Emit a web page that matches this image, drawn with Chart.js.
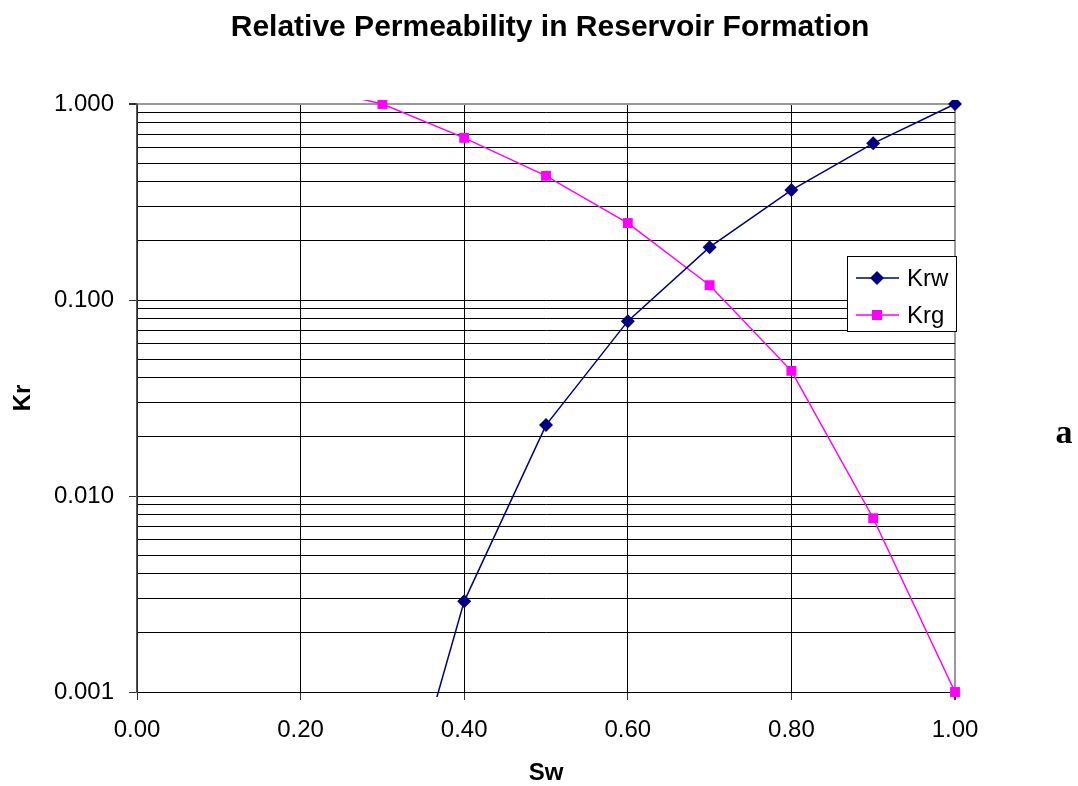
<!DOCTYPE html>
<html>
<head>
<meta charset="utf-8">
<title>Relative Permeability in Reservoir Formation</title>
<script src="https://cdn.jsdelivr.net/npm/chart.js@4.4.1/dist/chart.umd.min.js"></script>
<style>
  html, body { margin: 0; padding: 0; background: #fff; }
  #wrap { position: relative; width: 1078px; height: 786px; }
</style>
</head>
<body>
<div id="wrap"><canvas id="chart" width="1078" height="786"></canvas></div>
<script>
/* ---- Data ---- */
const TITLE = 'Relative Permeability in Reservoir Formation';
const SW  = [0.2, 0.3, 0.4, 0.5, 0.6, 0.7, 0.8, 0.9, 1.0];
const KRW = [null, 0.0001, 0.0029, 0.023, 0.078, 0.186, 0.364, 0.63, 1.0];
const KRG = [1.25, 1.0, 0.672, 0.43, 0.247, 0.119, 0.0435, 0.0077, 0.001];
const Y_DECADES = [0.001, 0.01, 0.1, 1];
const Y_MINOR = [2, 3, 4, 5, 6, 7, 8, 9];
const X_TICKS = [0, 0.2, 0.4, 0.6, 0.8, 1.0];

const FONT = '"Liberation Sans", Arial, sans-serif';
const NAVY = '#000080';
const MAGENTA = '#FF00FF';

// log ticks: decades + minor steps
const yTicks = [];
Y_DECADES.forEach((d, i) => {
  yTicks.push(d);
  if (i < Y_DECADES.length - 1) Y_MINOR.forEach(m => yTicks.push(d * m));
});

const pts = arr => SW.map((x, i) => ({ x: x, y: arr[i] }));
const offScale = ctx => (ctx.raw && (ctx.raw.y > 1.0001 || ctx.raw.y < 0.00099)) ? 0 : undefined;

/* ---- Extras: title, legend, side letter ---- */
const extras = {
  id: 'extras',
  afterDraw(chart) {
    const ctx = chart.ctx;
    ctx.save();
    ctx.fillStyle = '#000';
    ctx.textBaseline = 'middle';

    ctx.font = 'bold 30px ' + FONT;
    ctx.textAlign = 'center';
    ctx.fillText(TITLE, 550, 28);

    // legend box
    const bx = 847, by = 256, bw = 109, bh = 75;
    ctx.fillStyle = '#fff';
    ctx.fillRect(bx, by, bw, bh);
    ctx.strokeStyle = '#000';
    ctx.lineWidth = 1;
    ctx.strokeRect(bx + 0.5, by + 0.5, bw, bh);

    ctx.font = '24px ' + FONT;
    ctx.textAlign = 'left';
    chart.data.datasets.forEach((ds, i) => {
      const y = 278 + i * 37;
      ctx.strokeStyle = ds.borderColor;
      ctx.lineWidth = 1.5;
      ctx.beginPath();
      ctx.moveTo(856, y);
      ctx.lineTo(899, y);
      ctx.stroke();
      ctx.fillStyle = ds.borderColor;
      ctx.beginPath();
      if (ds.pointStyle === 'rectRot') {
        ctx.moveTo(877, y - 7); ctx.lineTo(884, y); ctx.lineTo(877, y + 7); ctx.lineTo(870, y);
      } else {
        ctx.rect(872, y - 5, 10, 10);
      }
      ctx.closePath();
      ctx.fill();
      ctx.fillStyle = '#000';
      ctx.fillText(ds.label, 907, y + 1);
    });

    ctx.font = 'bold 34px "Liberation Serif", "Times New Roman", serif';
    ctx.textAlign = 'center';
    ctx.textBaseline = 'alphabetic';
    ctx.fillText('a', 1064, 443);
    ctx.restore();
  }
};

new Chart(document.getElementById('chart'), {
  type: 'line',
  data: {
    datasets: [
      {
        label: 'Krw',
        data: pts(KRW),
        borderColor: NAVY,
        backgroundColor: NAVY,
        borderWidth: 1.5,
        pointStyle: 'rectRot',
        pointRadius: ctx => offScale(ctx) ?? 7,
        pointBorderWidth: 0,
        spanGaps: false,
        clip: { left: 0, top: 4, right: 8, bottom: 5 }
      },
      {
        label: 'Krg',
        data: pts(KRG),
        borderColor: MAGENTA,
        backgroundColor: MAGENTA,
        borderWidth: 1.5,
        pointStyle: 'rect',
        pointRadius: ctx => offScale(ctx) ?? 7,
        pointBorderWidth: 0,
        clip: { left: 0, top: 4, right: 8, bottom: 5 }
      }
    ]
  },
  options: {
    responsive: false,
    animation: false,
    layout: { padding: { top: 104, left: 0, right: 123, bottom: 0 } },
    plugins: {
      legend: { display: false },
      title: { display: false },
      tooltip: { enabled: false }
    },
    scales: {
      x: {
        type: 'linear',
        min: 0, max: 1,
        afterFit: s => { s.height = 94; },
        afterBuildTicks: s => { s.ticks = X_TICKS.map(v => ({ value: v })); },
        ticks: {
          color: '#000',
          font: { family: FONT, size: 24 },
          padding: 16,
          maxRotation: 0,
          autoSkip: false,
          callback: v => Number(v).toFixed(2)
        },
        grid: {
          color: c => Math.abs(c.tick.value - 1) < 1e-9 ? '#999' : '#000',
          lineWidth: c => Math.abs(c.tick.value - 1) < 1e-9 ? 2 : 1,
          tickColor: '#333',
          tickLength: 8
        },
        border: { color: '#000', width: 1 },
        title: {
          display: true,
          text: 'Sw',
          color: '#000',
          font: { family: FONT, size: 24, weight: 'bold', lineHeight: 1 },
          padding: { top: 0, bottom: 1 }
        }
      },
      y: {
        type: 'logarithmic',
        min: 0.001, max: 1,
        afterFit: s => { s.width = 137; },
        afterBuildTicks: s => { s.ticks = yTicks.map(v => ({ value: v })); },
        ticks: {
          color: '#000',
          font: { family: FONT, size: 24 },
          padding: 15,
          autoSkip: false,
          callback: v => Y_DECADES.includes(v) ? Number(v).toFixed(3) : ''
        },
        grid: {
          color: c => c.tick.value === 1 ? '#999' : '#000',
          lineWidth: c => c.tick.value === 1 ? 2 : 1,
          tickColor: c => Y_DECADES.includes(c.tick.value) ? '#333' : 'rgba(0,0,0,0)',
          tickLength: 8
        },
        border: { color: '#555', width: 1.5 },
        title: {
          display: true,
          text: 'Kr',
          color: '#000',
          font: { family: FONT, size: 24, weight: 'bold', lineHeight: 1.2 },
          padding: { top: 9, bottom: 0 }
        }
      }
    }
  },
  plugins: [extras]
});
</script>
</body>
</html>
